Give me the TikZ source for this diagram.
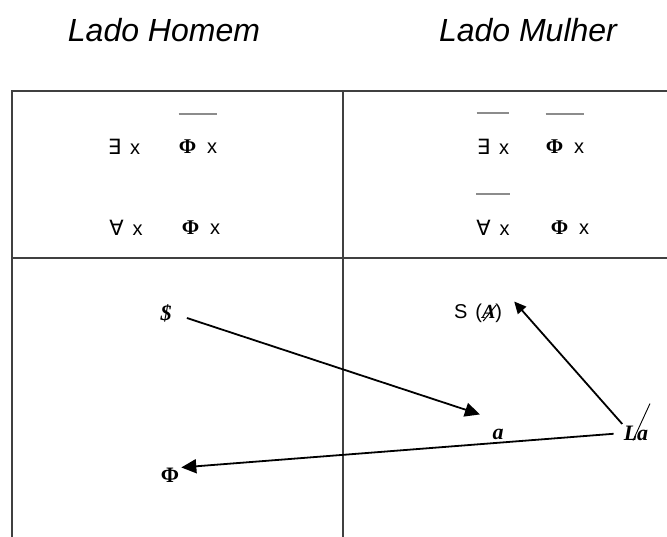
\documentclass[tikz,border=0pt]{standalone}
\usepackage{fontspec}
\setmainfont{Liberation Sans}
\newfontfamily\serifa{Liberation Serif}
\newfontfamily\simb{DejaVu Sans}
\usetikzlibrary{arrows.meta}

\newcommand{\existx}{{\simb\fontsize{21}{21}\selectfont ∃}\hspace{9pt}x}
\newcommand{\paratodox}{{\simb\fontsize{21}{21}\selectfont ∀}\hspace{9pt}x}
\newcommand{\phix}{{\serifa\bfseries\fontsize{21}{21}\selectfont Φ}\hspace{11pt}x}

\tikzset{
	linha/.style={draw=black!75, line width=1.2pt},
	barra/.style={draw=black!45, line width=2.4pt},
	seta/.style={line width=1.8pt, -{Triangle[length=15pt,width=14pt]}},
	setinha/.style={line width=1.8pt, -{Triangle[length=12pt,width=11pt]}},
	titulo/.style={font=\itshape\fontsize{32}{32}\selectfont},
	formula/.style={inner sep=0pt, font=\fontsize{20}{20}\selectfont},
	lacan/.style={inner sep=0pt, font=\serifa\bfseries\itshape\fontsize{22}{22}\selectfont}
}

\begin{document}
\begin{tikzpicture}[x=1pt, y=-1pt]
\useasboundingbox (0,0) rectangle (667,537);

% Titulos
\node[titulo] (homem) at (164,30) {Lado Homem};
\node[titulo] (mulher) at (528,30) {Lado Mulher};

% Quadro
\draw[linha] (12,537) -- (12,91) -- (667,91);
\draw[linha] (343,91) -- (343,537);
\draw[linha] (12,258) -- (667,258);

% Formulas da sexuacao
\node[formula] (ex1) at (124,147) {\existx};
\node[formula] (phi1) at (198,147) {\phix};
\node[formula] (pt1) at (126,228) {\paratodox};
\node[formula] (phi2) at (201,228) {\phix};

\node[formula] (ex2) at (493,147) {\existx};
\node[formula] (phi3) at (565,147) {\phix};
\node[formula] (pt2) at (493,228) {\paratodox};
\node[formula] (phi4) at (570,228) {\phix};

	\foreach \n in {phi1, ex2, phi3, pt2}
		\draw[barra] ([yshift=26pt]\n.north west) -- ([yshift=26pt]\n.north east);

% Matemas
\node[lacan] (sujeito) at (166,313) {\$};
\node[formula] (outro) at (478,313) {S\hspace{8pt}({\serifa\bfseries\itshape A})};
\node[lacan] (objeto) at (498,434) {a};
\node[lacan] (lamulher) at (636,433) {La};
\node[lacan, font=\serifa\bfseries\fontsize{22}{22}\selectfont] (falo) at (170,475) {Φ};

% barras do A e do L
\draw[line width=1pt] ([xshift=-19pt,yshift=-8pt]outro.east) -- ([xshift=-6pt,yshift=8pt]outro.east);
\draw[line width=0.9pt] ([xshift=-3pt]lamulher.south) -- ([xshift=14pt,yshift=37pt]lamulher.south);

\draw[seta, shorten <=16pt, shorten >=13pt] (sujeito.east) -- ([yshift=10pt]objeto.north west);
\draw[setinha, shorten <=2pt] (lamulher.north west) -- ([xshift=12pt,yshift=2pt]outro.north east);
\draw[seta, shorten <=10pt, shorten >=2pt] (lamulher.west) -- (falo.north east);
\end{tikzpicture}
\end{document}
